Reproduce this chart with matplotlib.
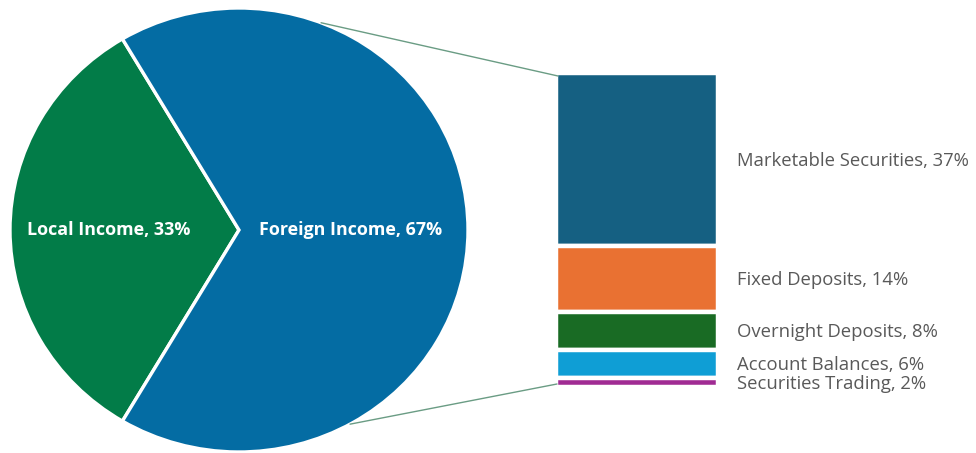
import numpy as np
import matplotlib
matplotlib.use("Agg")
import matplotlib.pyplot as plt
from matplotlib.patches import ConnectionPatch
from matplotlib import transforms

# Income split shown in the pie
pie_labels = ["Local Income", "Foreign Income"]
pie_values = [33, 67]
pie_colors = ["#027c48", "#046ca3"]

# Breakdown of foreign income shown in the stacked bar
bar_labels = ["Marketable Securities", "Fixed Deposits", "Overnight Deposits",
              "Account Balances", "Securities Trading"]
bar_values = [37, 14, 8, 6, 2]
bar_colors = ["#156082", "#e97132", "#196b24", "#0f9ed5", "#a02b93"]

plt.rcParams["font.family"] = ["Open Sans", "DejaVu Sans"]

W, H = 976, 453
fig = plt.figure(figsize=(W / 100, H / 100), dpi=100)


def px_axes(left, top, right, bottom):
    return fig.add_axes([left / W, 1 - bottom / H, (right - left) / W, (bottom - top) / H])


# ---- pie ----
ax1 = px_axes(10, 8, 468, 452)
local_share = pie_values[0] / sum(pie_values)
start = 180 - local_share * 360 / 2
wedges, _ = ax1.pie(pie_values, colors=pie_colors, startangle=start, counterclock=True,
                    radius=1.0, wedgeprops=dict(edgecolor="white", linewidth=2.4))
ax1.set_aspect("auto")
ax1.set_xlim(-1, 1)
ax1.set_ylim(-1, 1)
ax1.axis("off")

label_x = [-0.567, 0.485]
for lx, lab, val in zip(label_x, pie_labels, pie_values):
    ax1.text(lx, 0.0, f"{lab}, {val}%", color="white", fontsize=12.9, fontweight="bold",
             ha="center", va="center")

# ---- stacked bar (axes padded by half the white edge so fills reach the bar box) ----
ax2 = px_axes(556, 73, 718, 387)
total = sum(bar_values)
bottoms = np.concatenate([[0], np.cumsum(bar_values)[:-1]])
ax2.bar(0, bar_values, bottom=bottoms, width=1.0, color=bar_colors,
        edgecolor="white", linewidth=3.2)
ax2.set_xlim(-0.5, 0.5)
ax2.set_ylim(total, 0)
ax2.axis("off")

txt_trans = transforms.offset_copy(ax2.transData, fig=fig, x=19, y=-6.2, units="dots")
centers = bottoms + np.array(bar_values) / 2
for c, lab, val in zip(centers, bar_labels, bar_values):
    ax2.text(0.5, c, f"{lab}, {val}%", transform=txt_trans, color="#595959",
             fontsize=13.3, ha="left", va="baseline", clip_on=False)

# ---- connector lines from the foreign slice to the bar corners ----
line_color = "#6a9c84"
for ang, corner in [(69.0, (558, H - 76)), (-61.0, (557, H - 384))]:
    a = np.deg2rad(ang)
    con = ConnectionPatch(xyA=(np.cos(a), np.sin(a)), coordsA=ax1.transData,
                          xyB=corner, coordsB="figure pixels",
                          color=line_color, linewidth=1.0)
    fig.add_artist(con)

fig.savefig("out.png", dpi=100)
